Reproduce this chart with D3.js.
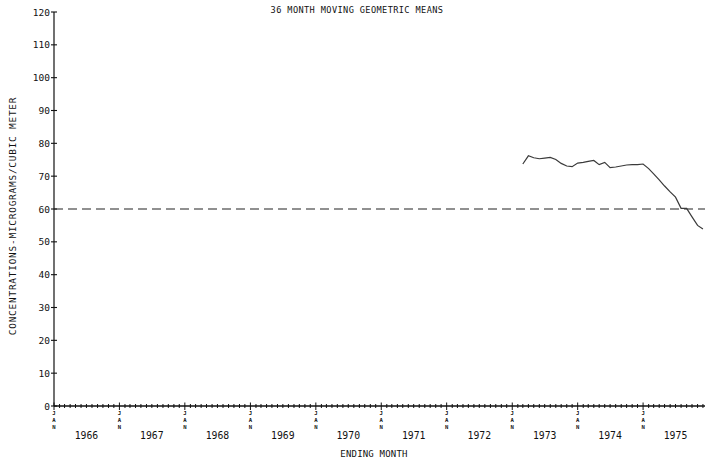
<!DOCTYPE html>
<html>
<head>
<meta charset="utf-8">
<script src="https://cdn.jsdelivr.net/npm/d3@7"></script>
<style>
  html, body { margin: 0; padding: 0; background: #fff; }
  svg { display: block; }
  text { font-family: "DejaVu Sans Mono", "Liberation Mono", monospace; fill: #111; }
</style>
</head>
<body>
<svg id="chart" width="705" height="462"></svg>
<script>
// 36-month moving geometric means, monthly, Mar 1973 – Dec 1975
const months = [
  "1973-03","1973-04","1973-05","1973-06","1973-07","1973-08","1973-09","1973-10",
  "1973-11","1973-12","1974-01","1974-02","1974-03","1974-04","1974-05","1974-06",
  "1974-07","1974-08","1974-09","1974-10","1974-11","1974-12","1975-01","1975-02",
  "1975-03","1975-04","1975-05","1975-06","1975-07","1975-08","1975-09","1975-10",
  "1975-11","1975-12"
];
const meanValues = [
  73.7, 76.2, 75.6, 75.3, 75.5, 75.7, 75.1, 73.9,
  73.1, 72.9, 74.0, 74.2, 74.5, 74.8, 73.5, 74.2,
  72.6, 72.8, 73.1, 73.4, 73.5, 73.5, 73.7, 72.3,
  70.7, 68.9, 67.0, 65.2, 63.6, 60.2, 60.2, 57.6,
  55.0, 53.9
];
const standardValue = 60;
const yTicks = [0, 10, 20, 30, 40, 50, 60, 70, 80, 90, 100, 110, 120];
const yearLabels = [1966, 1967, 1968, 1969, 1970, 1971, 1972, 1973, 1974, 1975];

const titleText = "36 MONTH MOVING GEOMETRIC MEANS";
const yTitle = "CONCENTRATIONS-MICROGRAMS/CUBIC METER";
const xTitle = "ENDING MONTH";

const svg = d3.select("#chart");
const parseMonth = d3.timeParse("%Y-%m");

const x = d3.scaleTime()
  .domain([new Date(1966, 0, 1), new Date(1976, 0, 1)])
  .range([54, 708.5]);
const y = d3.scaleLinear().domain([0, 120]).range([406, 12]);

// Title
svg.append("text")
  .attr("x", 357).attr("y", 13)
  .attr("text-anchor", "middle")
  .attr("font-size", 8.6)
  .attr("letter-spacing", 0.4)
  .text(titleText);

// Y axis: line crossing ticks and labels
const yAxisG = svg.append("g");
yAxisG.append("line")
  .attr("x1", x.range()[0]).attr("x2", x.range()[0])
  .attr("y1", y(0)).attr("y2", y(120))
  .attr("stroke", "#111").attr("stroke-width", 1.2);
yAxisG.selectAll("line.yt").data(yTicks).join("line")
  .attr("class", "yt")
  .attr("x1", x.range()[0] - 3).attr("x2", x.range()[0] + 3)
  .attr("y1", d => y(d)).attr("y2", d => y(d))
  .attr("stroke", "#111").attr("stroke-width", 1.1);
yAxisG.selectAll("text").data(yTicks).join("text")
  .attr("x", 50).attr("y", d => y(d) + 3.5)
  .attr("text-anchor", "end")
  .attr("font-size", 9.5)
  .text(d => d);

// Y title
svg.append("text")
  .attr("transform", `translate(16,${216}) rotate(-90)`)
  .attr("text-anchor", "middle")
  .attr("font-size", 9.4)
  .attr("letter-spacing", 0.8)
  .text(yTitle);

// X axis: line with monthly ticks, larger ticks at January
const xAxisG = svg.append("g");
xAxisG.append("line")
  .attr("x1", x.range()[0]).attr("x2", 705)
  .attr("y1", y(0)).attr("y2", y(0))
  .attr("stroke", "#111").attr("stroke-width", 1.4);
const monthTicks = d3.timeMonth.range(new Date(1966, 0, 1), new Date(1976, 0, 1));
xAxisG.selectAll("line.mt").data(monthTicks).join("line")
  .attr("class", "mt")
  .attr("x1", d => x(d)).attr("x2", d => x(d))
  .attr("y1", d => y(0) - (d.getMonth() === 0 ? 3.5 : 2))
  .attr("y2", d => y(0) + (d.getMonth() === 0 ? 4 : 2))
  .attr("stroke", "#111").attr("stroke-width", 1);

// Stacked "JAN" markers under each January tick
const janTicks = monthTicks.filter(d => d.getMonth() === 0);
const janG = xAxisG.selectAll("g.jan").data(janTicks).join("g")
  .attr("class", "jan")
  .attr("transform", d => `translate(${x(d)},0)`);
["J", "A", "N"].forEach((ch, i) => {
  janG.append("text")
    .attr("x", 0).attr("y", 415 + i * 7)
    .attr("text-anchor", "middle")
    .attr("font-size", 5.6)
    .attr("font-weight", "bold")
    .text(ch);
});

// Year labels centred in each year
xAxisG.selectAll("text.yr").data(yearLabels).join("text")
  .attr("class", "yr")
  .attr("x", d => x(new Date(d, 6, 1)))
  .attr("y", 439)
  .attr("text-anchor", "middle")
  .attr("font-size", 9.8)
  .text(d => d);

// X title
svg.append("text")
  .attr("x", 374).attr("y", 457)
  .attr("text-anchor", "middle")
  .attr("font-size", 9)
  .attr("letter-spacing", 0.2)
  .text(xTitle);

// Standard reference level (dashed)
svg.append("line")
  .attr("x1", x.range()[0]).attr("x2", 705)
  .attr("y1", y(standardValue)).attr("y2", y(standardValue))
  .attr("stroke", "#222").attr("stroke-width", 1.2)
  .attr("stroke-dasharray", "9,5");

// Moving mean series
const series = months.map((m, i) => ({ date: parseMonth(m), value: meanValues[i] }));
svg.append("path")
  .datum(series)
  .attr("fill", "none")
  .attr("stroke", "#3a3a3a")
  .attr("stroke-width", 1.2)
  .attr("d", d3.line().x(d => x(d.date)).y(d => y(d.value)));
</script>
</body>
</html>
